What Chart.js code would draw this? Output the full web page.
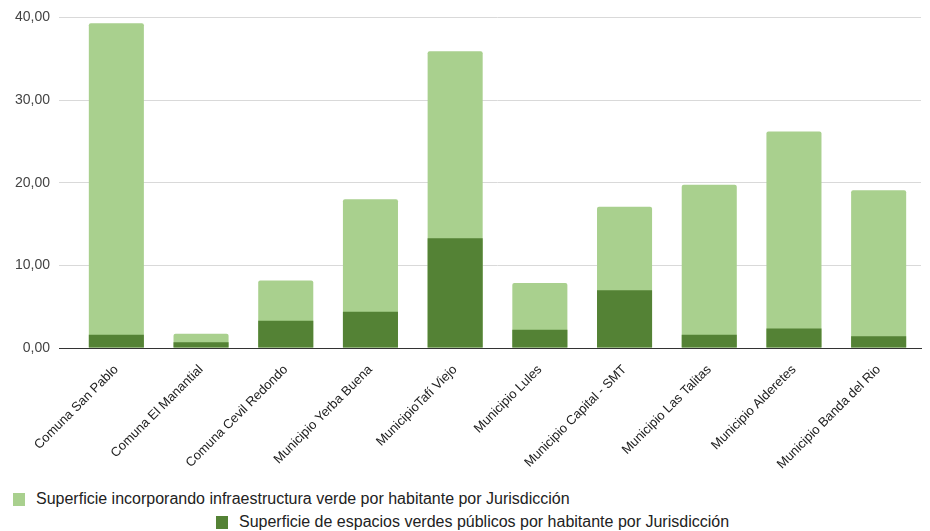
<!DOCTYPE html>
<html>
<head>
<meta charset="utf-8">
<script src="https://cdn.jsdelivr.net/npm/chart.js@4/dist/chart.umd.min.js"></script>
<style>
  body { margin: 0; background: #fff; font-family: "Liberation Sans", Arial, sans-serif; }
  #wrap { position: relative; width: 930px; height: 531px; }
  #box { position: absolute; left: 0; top: 0; width: 930px; height: 480px; }
  .leg { position: absolute; font-size: 16px; color: #222; white-space: nowrap; line-height: 18px; }
  .leg span.sw { display: inline-block; width: 12px; height: 13px; vertical-align: -2px; margin-right: 11px; }
</style>
</head>
<body>
<div id="wrap">
  <div id="box"><canvas id="chart"></canvas></div>
  <div class="leg" id="leg0" style="left:13px; top:490px;"></div>
  <div class="leg" id="leg1" style="left:216px; top:513px;"></div>
</div>
<script>
'use strict';

var categories = [
  'Comuna San Pablo',
  'Comuna El Manantial',
  'Comuna Cevil Redondo',
  'Municipio Yerba Buena',
  'MunicipioTafí Viejo',
  'Municipio Lules',
  'Municipio Capital - SMT',
  'Municipio Las Talitas',
  'Municipio Alderetes',
  'Municipio Banda del Rio'
];

var seriesNames = [
  'Superficie incorporando infraestructura verde por habitante por Jurisdicción',
  'Superficie de espacios verdes públicos por habitante por Jurisdicción'
];

// total with green infrastructure (light bars)
var infraVerde = [39.28, 1.73, 8.18, 18.01, 35.90, 7.87, 17.09, 19.74, 26.20, 19.10];
// public green spaces (dark bars)
var espaciosVerdes = [1.61, 0.69, 3.30, 4.38, 13.28, 2.21, 6.98, 1.61, 2.37, 1.41];

var yTicks = [0, 10, 20, 30, 40];

var colors = ['#a9d08e', '#548235'];

var ctx = document.getElementById('chart').getContext('2d');

var chart = new Chart(ctx, {
  type: 'bar',
  data: {
    labels: categories,
    datasets: [{
      label: seriesNames[0],
      data: infraVerde,
      backgroundColor: colors[0],
      borderRadius: { topLeft: 2, topRight: 2 },
      borderSkipped: 'bottom',
      order: 1
    }, {
      label: seriesNames[1],
      data: espaciosVerdes,
      backgroundColor: colors[1],
      order: 0
    }]
  },
  options: {
    responsive: true,
    maintainAspectRatio: false,
    animation: false,
    layout: { padding: { top: 8, right: 9, left: 0, bottom: 0 } },
    datasets: {
      bar: { categoryPercentage: 1, barPercentage: 0.65 }
    },
    plugins: {
      legend: { display: false },
      tooltip: { enabled: false }
    },
    scales: {
      x: {
        stacked: true,
        grid: { display: false },
        border: { display: true, color: '#333', width: 1 },
        ticks: {
          autoSkip: false,
          maxRotation: 45,
          minRotation: 45,
          padding: 6,
          color: '#222',
          font: { family: '"Liberation Sans", Arial, sans-serif', size: 13 }
        },
        afterFit: function (axis) { axis.height = 132; }
      },
      y: {
        stacked: false,
        min: 0,
        max: 40,
        afterBuildTicks: function (axis) {
          axis.ticks = yTicks.map(function (v) { return { value: v }; });
        },
        grid: {
          color: function (c) { return c.tick && c.tick.value === 0 ? '#333' : '#d9d9d9'; },
          tickLength: 15,
          drawTicks: true
        },
        border: { display: false },
        ticks: {
          padding: 9,
          color: '#444',
          font: { family: '"Liberation Sans", Arial, sans-serif', size: 14 },
          callback: function (v) { return v.toFixed(2).replace('.', ','); }
        },
        afterFit: function (axis) { axis.width = 74; }
      }
    }
  }
});

// legend drawn as html, two rows like the original
chart.data.datasets.forEach(function (ds, i) {
  var el = document.getElementById('leg' + i);
  el.innerHTML = '<span class="sw" style="background:' + ds.backgroundColor + '"></span>' + ds.label;
});
</script>
</body>
</html>
